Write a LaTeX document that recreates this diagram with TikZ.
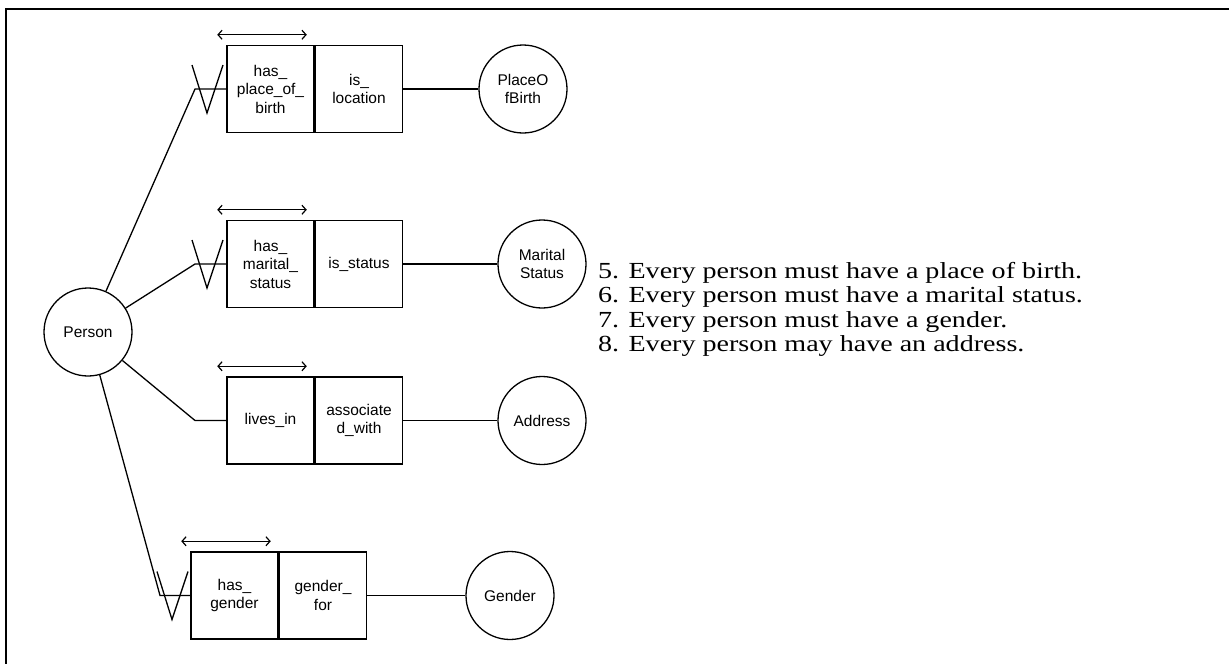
\documentclass[tikz,border=0pt]{standalone}
\usepackage{fontspec}
\setmainfont{Liberation Serif}[FakeStretch=1.22]
\newfontfamily\ormfont{Liberation Sans}
\usetikzlibrary{arrows.meta}

\tikzset{
  ent/.style={draw, circle, line width=1.3pt, minimum size=88pt, inner sep=0pt,
    align=center, font=\ormfont\fontsize{15.5}{18}\selectfont},
  role/.style={draw, rectangle, line width=1.5pt, minimum width=87pt,
    minimum height=87pt, inner sep=0pt, align=center,
    font=\ormfont\fontsize{15.5}{18.5}\selectfont},
  conn/.style={line width=1.3pt},
  uniq/.style={line width=1.2pt,
    {Straight Barb[length=4pt,width=9pt]}-{Straight Barb[length=4pt,width=9pt]}},
}
% mandatory "V" mark hung on a joint
\newcommand{\vmark}[1]{\draw[conn, shift={(#1)}] (-3,-24) -- (12,24) -- (28,-24);}

\begin{document}
\begin{tikzpicture}[x=1pt, y=-1pt]
  \useasboundingbox (0,0) rectangle (1229,664);
  % frame, only top and left edges show
  \draw[line width=2pt] (6,664) -- (6,9) -- (1229,9);

  \node[ent] (person) at (88,332) {Person};

  % fact types: left role, right role
  \node[role] (hasPob) at (270.5,89) {has\_\\place\_of\_\\birth};
  \node[role, anchor=west] (isLoc) at (hasPob.east) {is\_\\location};
  \node[role] (hasMs) at (270.5,264) {has\_\\marital\_\\status};
  \node[role, anchor=west] (isStat) at (hasMs.east) {is\_status};
  \node[role] (livesIn) at (270.5,420.5) {lives\_in};
  \node[role, anchor=west] (assocW) at (livesIn.east) {associate\\d\_with};
  \node[role] (hasGen) at (234.5,595.5) {has\_\\gender};
  \node[role, anchor=west] (genFor) at (hasGen.east) {gender\_\\for};

  % uniqueness bars
  \foreach \r in {hasPob, hasMs, livesIn, hasGen}
    \draw[uniq] ([xshift=-9pt, yshift=10pt]\r.north west) -- ([xshift=-8pt, yshift=10pt]\r.north east);

  % entity types on the right
  \node[ent] (pob) at (523,89) {PlaceO\\fBirth};
  \node[ent] (ms) at (542,264) {Marital\\Status};
  \node[ent] (addr) at (542,420.5) {Address};
  \node[ent] (gen) at (510,595.5) {Gender};

  % joints where Person's lines turn
  \coordinate (j1) at (195,89);
  \coordinate (j2) at (195,264);
  \coordinate (j3) at (195,420.5);
  \coordinate (j4) at (160,595.5);

  \draw[conn] (person) -- (j1) -- (hasPob.west);
  \draw[conn] (person) -- (j2) -- (hasMs.west);
  \draw[conn] (person) -- (j3) -- (livesIn.west);
  \draw[conn] (person) -- (j4) -- (hasGen.west);
  \vmark{j1}
  \vmark{j2}
  \vmark{j4}

  \draw[conn] (isLoc.east) -- (pob);
  \draw[conn] (isStat.east) -- (ms);
  \draw[conn] (assocW.east) -- (addr);
  \draw[conn] (genFor.east) -- (gen);

  % rules text (base = last line)
  \node[anchor=base west, align=left, inner sep=0pt, font=\fontsize{23}{24.5}\selectfont] (rules) at (598,351.5)
    {5. Every person must have a place of birth.\\
     6. Every person must have a marital status.\\
     7. Every person must have a gender.\\
     8. Every person may have an address.};
\end{tikzpicture}
\end{document}
